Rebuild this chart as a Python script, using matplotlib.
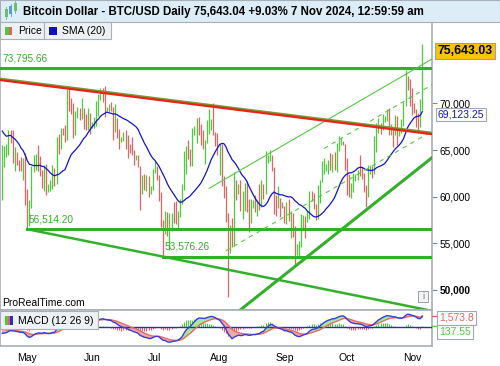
import numpy as np
import pandas as pd
import matplotlib
matplotlib.use("Agg")
import matplotlib.pyplot as plt
import matplotlib.dates as mdates
from matplotlib.patches import Rectangle

plt.rcParams['font.family'] = ['Liberation Sans', 'DejaVu Sans']

# --- data (prices in thousands of USD) ---
# closes 1 Feb - 18 Apr 2024, only used to warm up the SMA / MACD
warmup_close_k = [43.1, 43.2, 43.0, 42.6, 42.7, 43.1, 44.3, 45.3, 47.1, 47.8,
                  48.3, 50.0, 49.7, 51.8, 52.0, 52.1, 51.7, 52.1, 51.8, 52.3,
                  51.9, 51.3, 50.7, 51.6, 51.7, 54.5, 57.1, 62.5, 61.2,
                  62.4, 62.0, 63.1, 68.3, 63.8, 66.1, 66.9, 68.3, 68.5, 69.0,
                  72.1, 71.5, 73.1, 71.4, 69.4, 65.3, 68.4, 67.6, 62.0, 67.9,
                  65.5, 63.8, 64.0, 67.2, 69.9, 69.9, 69.5, 70.8, 70.0, 69.6, 71.3,
                  69.7, 65.4, 65.9, 68.5, 67.8, 68.9, 69.4, 71.6, 69.1, 70.6,
                  70.0, 67.1, 63.9, 65.7, 63.4, 63.8, 61.3, 63.5]

start_date = '2024-04-19'

high_k = [65.5, 65.4, 65.7, 67.2, 67.2, 67.1, 65.3, 64.8, 63.9, 64.3, 64.2, 64.7,
          # May
          60.8, 59.6, 63.3, 64.5, 64.6, 65.5, 64.4, 62.9, 63.4, 63.5, 61.4, 61.8,
          63.4, 63.1, 66.4, 66.7, 67.4, 67.4, 67.7, 71.5, 71.9, 70.6, 70.0, 69.2,
          69.6, 69.5, 70.6, 69.5, 68.9, 69.5, 69.0,
          # Jun
          68.0, 68.5, 70.3, 71.0, 71.7, 71.6, 71.9, 69.6, 69.9, 70.2, 69.6, 69.9,
          68.4, 67.3, 66.4, 66.9, 67.2, 66.6, 65.7, 66.4, 65.0, 64.5, 64.5, 63.3,
          62.3, 62.4, 62.3, 62.2, 61.2, 63.0,
          # Jul
          63.8, 63.3, 62.3, 60.5, 57.5, 58.5, 58.4, 58.2, 58.3, 59.4, 59.5, 58.5,
          59.8, 61.4, 64.9, 65.4, 66.1, 65.1, 67.4, 67.6, 68.4, 68.5, 67.8, 67.1,
          66.1, 68.2, 69.4, 68.3, 70.0, 66.9, 66.8,
          # Aug
          65.6, 65.6, 62.2, 61.1, 58.3, 57.0, 57.7, 62.7, 61.8, 61.4, 61.8, 60.6,
          61.5, 61.7, 59.8, 59.8, 59.6, 60.2, 59.6, 61.4, 61.8, 61.4, 64.9, 64.5,
          65.0, 64.5, 63.2, 60.2, 61.2, 59.9, 59.4,
          # Sep
          59.0, 59.4, 59.8, 58.5, 58.3, 56.9, 54.9, 55.3, 58.1, 58.0, 57.9, 58.6,
          60.6, 60.6, 60.4, 59.2, 61.3, 61.8, 63.8, 64.1, 63.5, 63.9, 64.7, 64.6,
          64.8, 65.8, 66.5, 66.3, 66.0, 65.6,
          # Oct
          64.1, 62.4, 61.5, 62.5, 62.4, 62.9, 64.5, 63.2, 62.5, 61.3, 63.4, 63.4,
          63.3, 66.5, 67.9, 68.4, 67.9, 68.9, 68.7, 69.4, 69.5, 67.8, 67.4, 68.8,
          68.7, 67.4, 68.3, 70.2, 73.6, 72.9, 72.6,
          # Nov
          71.6, 70.0, 69.4, 69.0, 70.5, 76.4]

low_k = [59.6, 63.2, 64.3, 64.5, 65.8, 63.6, 62.8, 63.4, 62.8, 62.8, 61.8, 59.1,
         # May
         56.514, 56.9, 58.8, 62.6, 62.9, 62.8, 62.2, 60.9, 60.6, 60.2, 60.5, 60.6,
         60.8, 61.2, 61.4, 64.6, 65.1, 66.6, 65.9, 66.1, 69.2, 68.9, 66.3, 66.6,
         68.4, 68.2, 68.3, 67.3, 67.2, 67.2, 66.7,
         # Jun
         67.4, 67.4, 67.6, 68.6, 70.4, 70.2, 68.5, 69.2, 69.1, 69.2, 66.1, 66.9,
         66.3, 65.1, 65.9, 66.0, 65.1, 64.1, 64.7, 64.5, 63.4, 63.9, 63.2, 58.6,
         60.3, 60.7, 60.6, 60.0, 60.3, 60.7,
         # Jul
         62.5, 61.8, 59.5, 56.8, 53.576, 56.0, 55.8, 54.3, 56.3, 57.2, 57.1, 56.6,
         57.8, 59.2, 60.7, 62.4, 64.0, 63.3, 63.3, 66.6, 65.8, 66.6, 65.5, 65.1,
         63.5, 65.8, 66.7, 67.1, 66.6, 65.4, 64.5,
         # Aug
         62.3, 61.2, 59.9, 57.3, 49.2, 54.0, 54.6, 54.7, 59.6, 60.3, 58.5, 57.6,
         58.5, 58.4, 56.2, 57.2, 58.8, 58.4, 57.9, 58.6, 58.9, 59.8, 60.3, 63.6,
         63.8, 62.8, 58.1, 57.9, 58.8, 57.8, 58.8,
         # Sep
         57.2, 57.1, 57.4, 55.6, 55.7, 52.6, 53.7, 53.6, 54.6, 56.4, 55.6, 57.3,
         57.6, 59.5, 58.7, 57.5, 57.6, 59.3, 61.6, 62.4, 62.8, 62.4, 62.9, 62.7,
         62.9, 62.7, 64.9, 65.5, 65.5, 62.9,
         # Oct
         60.2, 60.0, 59.9, 60.5, 61.7, 61.8, 62.2, 61.9, 60.5, 58.9, 60.0, 62.4,
         62.0, 62.4, 64.8, 66.8, 66.7, 67.1, 68.0, 68.1, 66.6, 66.6, 65.3, 66.6,
         65.5, 66.5, 66.8, 67.6, 69.7, 71.4, 69.7,
         # Nov
         68.8, 69.0, 67.5, 66.8, 67.5, 69.3]

close_k = [63.8, 64.9, 64.9, 66.8, 66.4, 64.3, 64.5, 63.8, 63.4, 63.1, 63.8, 60.6,
           # May
           58.3, 59.1, 62.9, 63.9, 64.0, 63.2, 62.3, 61.2, 63.1, 60.8, 60.8, 61.4,
           62.9, 61.6, 66.3, 65.2, 67.0, 66.9, 66.3, 71.4, 70.1, 69.1, 67.9, 68.5,
           69.3, 68.5, 69.4, 68.3, 67.6, 68.3, 67.5,
           # Jun
           67.8, 67.8, 68.8, 70.6, 71.1, 70.8, 69.3, 69.3, 69.6, 69.5, 67.3, 68.2,
           66.8, 66.0, 66.2, 66.6, 66.5, 65.2, 64.9, 64.8, 64.1, 64.3, 63.2, 60.3,
           61.8, 60.9, 61.6, 60.3, 60.9, 62.7,
           # Jul
           62.9, 62.0, 60.2, 57.0, 56.7, 58.2, 55.9, 56.7, 58.0, 57.7, 57.3, 57.9,
           59.2, 60.8, 64.7, 65.1, 64.1, 63.9, 66.7, 67.2, 68.2, 67.6, 65.9, 65.4,
           65.8, 67.9, 68.0, 68.3, 66.8, 66.2, 64.6,
           # Aug
           65.4, 61.5, 60.7, 58.1, 54.0, 56.0, 55.0, 61.7, 60.9, 60.9, 58.7, 59.3,
           60.6, 58.7, 57.6, 58.9, 59.5, 58.4, 59.5, 59.0, 61.2, 60.4, 64.1, 64.2,
           64.2, 62.8, 59.4, 59.0, 59.4, 59.1, 58.9,
           # Sep
           57.3, 59.1, 57.5, 58.0, 56.2, 54.0, 54.8, 54.9, 57.0, 57.7, 57.4, 58.1,
           60.6, 60.0, 59.2, 58.2, 60.3, 61.8, 62.9, 63.2, 63.4, 63.6, 63.3, 64.3,
           63.1, 65.2, 65.8, 65.9, 65.6, 63.3,
           # Oct
           60.8, 60.6, 60.8, 62.1, 62.1, 62.8, 62.2, 62.1, 60.6, 60.3, 62.5, 63.2,
           62.9, 66.0, 67.0, 67.6, 67.4, 68.4, 68.4, 69.0, 67.4, 67.4, 66.7, 68.2,
           66.6, 67.0, 67.9, 69.9, 72.7, 72.3, 70.2,
           # Nov
           69.5, 69.3, 68.7, 67.8, 69.4, 75.643]

ath_level = 73795.66
may_low = 56514.20
jul_low = 53576.26
y_ticks = [50000, 55000, 60000, 65000, 70000]
month_ticks = ['2024-05-01', '2024-06-01', '2024-07-01', '2024-08-01',
               '2024-09-01', '2024-10-01', '2024-11-01']

title = 'Bitcoin Dollar - BTC/USD Daily 75,643.04 +9.03% 7 Nov 2024, 12:59:59 am'
last_price_label = '75,643.03'
sma_label = '69,123.25'
signal_label = '1,573.8'
hist_label = '137.55'

# trend lines, two (date, price) points each
red_line = [('2024-04-18', 72500), ('2024-11-10', 66720)]
support_desc = [('2024-05-01', may_low), ('2024-07-05', jul_low)]
support_asc = [('2024-09-04', 52150), ('2024-11-05', 63180)]
channel_top = [('2024-07-27', 60900), ('2024-10-31', 73370)]
channel_mid = [('2024-09-20', 65170), ('2024-11-03', 70990)]
channel_low = [('2024-08-04', 54200), ('2024-11-05', 66290)]

# --- derived series ---
dates = pd.date_range(start_date, periods=len(close_k), freq='D')
x = mdates.date2num(dates)
highs = np.array(high_k) * 1000
lows = np.array(low_k) * 1000
closes = np.array(close_k) * 1000

all_close = pd.Series(np.concatenate([warmup_close_k, close_k]) * 1000)
n_warm = len(warmup_close_k)
sma = all_close.rolling(20).mean().to_numpy()[n_warm:]
ema12 = all_close.ewm(span=12, adjust=False).mean()
ema26 = all_close.ewm(span=26, adjust=False).mean()
macd = (ema12 - ema26)
signal = macd.ewm(span=9, adjust=False).mean()
hist = (macd - signal).to_numpy()[n_warm:]
macd = macd.to_numpy()[n_warm:]
signal = signal.to_numpy()[n_warm:]

prev_close = np.concatenate([[warmup_close_k[-1] * 1000], closes[:-1]])
GREEN = '#4ccc3a'
RED = '#e06464'
bar_cols = np.where(closes >= prev_close, GREEN, RED)

# x range: 1 May sits at 27.3 px, 2.09 px per day, plot is 432 px wide
may1 = mdates.date2num(pd.Timestamp('2024-05-01'))
x0 = may1 - 27.3 / 2.09
x1 = may1 + (432 - 27.3) / 2.09

W, H = 500, 366
fig = plt.figure(figsize=(5, 3.66), dpi=100)
fig.patch.set_facecolor('white')

def frac(l, t, r, b):
    return [l / W, 1 - b / H, (r - l) / W, (b - t) / H]

ax = fig.add_axes(frac(0, 22, 432, 310))
am = fig.add_axes(frac(0, 310, 432, 346))

LINEG = '#33b02a'
FRAME = '#a7b0b8'

# price bars
ax.vlines(x, lows, highs, colors=bar_cols, lw=0.9, zorder=3)
ax.plot(x, sma, color='#1414c8', lw=0.9, zorder=4)

def dn(s):
    return mdates.date2num(pd.Timestamp(s))

def seg(pts, **kw):
    (d1, p1), (d2, p2) = pts
    a, b = dn(d1), dn(d2)
    k = (p2 - p1) / (b - a)
    ax.plot([a, x1 + 5], [p1, p1 + k * (x1 + 5 - a)], **kw)

ax.axhline(ath_level, color=LINEG, lw=2.2, zorder=5)
ax.plot([dn('2024-05-01'), x1 + 5], [may_low, may_low], color=LINEG, lw=2.2, zorder=5)
ax.plot([dn('2024-07-05'), x1 + 5], [jul_low, jul_low], color=LINEG, lw=2.2, zorder=5)
seg(support_desc, color=LINEG, lw=1.8, zorder=5)
(s1, sp1), (s2, sp2) = support_asc
ax.axline((dn(s1), sp1), (dn(s2), sp2), color=LINEG, lw=2.2, zorder=5)
seg(channel_top, color='#55c844', lw=0.8, zorder=5)
seg(channel_mid, color='#55c844', lw=0.8, ls=(0, (4, 4)), zorder=5)
seg(channel_low, color='#55c844', lw=0.8, ls=(0, (4, 4)), zorder=5)
(r1, rp1), (r2, rp2) = red_line
ax.axline((dn(r1), rp1 + 120), (dn(r2), rp2 + 120), color='#7a9a30', lw=2.0, zorder=6)
ax.axline((dn(r1), rp1), (dn(r2), rp2), color='#e8221c', lw=1.6, zorder=6)

ax.text(x0 + 1.2, ath_level + 500, '73,795.66', color=LINEG, fontsize=7.3, va='bottom')
ax.text(dn('2024-05-01') + 0.8, may_low + 500, '56,514.20', color=LINEG, fontsize=7.3, va='bottom')
ax.text(dn('2024-07-05') + 0.6, jul_low + 500, '53,576.26', color=LINEG, fontsize=7.3, va='bottom')
ax.text(0.004, 0.008, 'ProRealTime.com', transform=ax.transAxes, fontsize=7.5, va='bottom')

ax.set_xlim(x0, x1)
ax.set_ylim(47856, 78725)
ax.yaxis.tick_right()
ax.set_yticks(y_ticks)
ax.set_yticklabels([f'{v:,}' for v in y_ticks], fontsize=7.3)
ax.get_yticklabels()[0].set_fontweight('bold')
ax.tick_params(axis='y', length=3.5, width=0.8, color='#808890', pad=2)
ax.set_xticks([])
for s in ax.spines.values():
    s.set_color(FRAME)
    s.set_linewidth(1.2)

tr = ax.get_yaxis_transform()
ax.text(1.013, closes[-1], last_price_label, transform=tr, fontsize=8.8, fontweight='bold',
        va='center', ha='left', zorder=10,
        bbox=dict(boxstyle='square,pad=0.18', fc='#f8c400', ec='#a0a0a0', lw=0.8))
ax.text(1.013, sma[-1] - 300, sma_label, transform=tr, fontsize=7.5, color='#1414c8',
        va='center', ha='left', zorder=10,
        bbox=dict(boxstyle='square,pad=0.18', fc='white', ec='#a0a8b0', lw=0.8))

# MACD panel
am.vlines(x, 0, hist, colors=np.where(hist >= 0, GREEN, RED), lw=0.8, zorder=2)
am.fill_between(x, macd, signal, where=macd >= signal, interpolate=True,
                color='#a6e89a', lw=0, zorder=3)
am.fill_between(x, macd, signal, where=macd < signal, interpolate=True,
                color='#f2aaa6', lw=0, zorder=3)
am.axhline(0, color='#2a2ad0', lw=1.0, zorder=4)
am.plot(x, signal, color='#e66a66', lw=1.0, zorder=5)
am.plot(x, macd, color='#3a3ae0', lw=1.0, zorder=6)
am.set_xlim(x0, x1)
am.set_ylim(-2960, 2640)
am.set_yticks([])
am.set_xticks([dn(m) for m in month_ticks])
am.xaxis.set_major_formatter(mdates.DateFormatter('%b'))
am.tick_params(axis='x', length=0, labelsize=7.5, pad=5)
for s in am.spines.values():
    s.set_color(FRAME)
    s.set_linewidth(1.2)

# overlay in pixel coordinates for the chrome (title bar, legend boxes, side labels)
ov = fig.add_axes([0, 0, 1, 1], zorder=20)
ov.set_xlim(0, W)
ov.set_ylim(H, 0)
ov.axis('off')
ov.add_patch(Rectangle((0, 0), W, 22, fc='#dcedf7', ec='#a7b0b8', lw=0.8))
for cx, top, bot, c in [(6, 9, 17, '#68c060'), (10.5, 6, 14, '#5b9bd8'), (15, 3, 11, '#68c060')]:
    ov.add_patch(Rectangle((cx - 1.5, top), 3, bot - top, fc=c, ec='none'))
    ov.plot([cx, cx], [top - 2, bot + 2], color=c, lw=0.6)
ov.text(23, 12, title, fontsize=8.3, fontweight='bold', va='center', ha='left')

ov.add_patch(Rectangle((0, 22), 44, 17, fc='#eef1f3', ec=FRAME, lw=0.8))
ov.add_patch(Rectangle((5, 27), 3.5, 8, fc=GREEN, ec='none'))
ov.add_patch(Rectangle((8.5, 27), 3.5, 8, fc=RED, ec='none'))
ov.text(18, 31, 'Price', fontsize=7.5, va='center')
ov.add_patch(Rectangle((44, 22), 67, 17, fc='#eef1f3', ec=FRAME, lw=0.8))
ov.add_patch(Rectangle((49, 27), 8, 8, fc='#1010c0', ec='none'))
ov.text(62, 31, 'SMA (20)', fontsize=7.5, va='center')

ov.add_patch(Rectangle((418, 291), 10, 11, fc='#f4f4f4', ec='#9aa0a8', lw=0.7))
ov.text(423, 296.5, 'i', fontsize=6.5, color='#707880', ha='center', va='center')

ov.add_patch(Rectangle((0, 311), 98, 18, fc='#eef1f3', ec=FRAME, lw=0.8))
ov.add_patch(Rectangle((5, 316), 2.7, 9, fc=GREEN, ec='none'))
ov.add_patch(Rectangle((7.7, 316), 2.7, 9, fc=RED, ec='none'))
ov.add_patch(Rectangle((10.4, 316), 2.7, 9, fc='#2a2ad0', ec='none'))
ov.text(18, 320.5, 'MACD (12 26 9)', fontsize=7.5, va='center')

ov.plot([432, 436], [316, 316], color=RED, lw=1)
ov.plot([432, 436], [326, 326], color=GREEN, lw=1)
ov.text(439, 318, signal_label, fontsize=7.5, color=RED, va='center',
        bbox=dict(boxstyle='square,pad=0.18', fc='white', ec='#a0a8b0', lw=0.8))
ov.text(439, 332, hist_label, fontsize=7.5, color=GREEN, va='center',
        bbox=dict(boxstyle='square,pad=0.18', fc='white', ec='#a0a8b0', lw=0.8))

fig.savefig('out.png', dpi=100)
